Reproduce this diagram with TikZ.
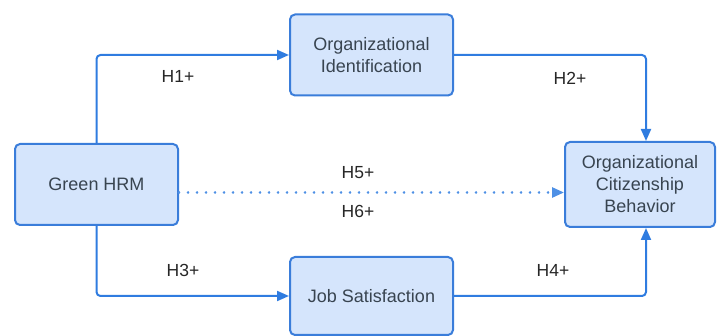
\documentclass[tikz,border=0pt]{standalone}
\usepackage{fontspec}
\setmainfont{Liberation Sans}
\usetikzlibrary{arrows.meta}
\definecolor{boxfill}{HTML}{D5E5FC}
\definecolor{boxline}{HTML}{3A7DDA}
\definecolor{linkblue}{HTML}{2F7CE0}
\definecolor{boxtext}{HTML}{384450}
\definecolor{labeltext}{HTML}{262626}
\begin{document}
\begin{tikzpicture}[x=1pt,y=-1pt,
  concept/.style={draw=boxline, fill=boxfill, line width=2pt, rounded corners=5pt,
    text=boxtext, align=center, inner sep=0pt,
    font=\fontsize{18}{22}\selectfont},
  link/.style={draw=linkblue, line width=2pt, rounded corners=4pt,
    -{Triangle[length=12pt,width=10pt]}},
  dotlink/.style={draw=linkblue!85, line width=2.6pt, line cap=round,
    dash pattern=on 0.1pt off 8.9pt, -{Triangle[length=12pt,width=10pt]}},
  hyp/.style={text=labeltext, font=\fontsize{17.5}{20}\selectfont, inner sep=0pt}]
  \useasboundingbox (0,0) rectangle (718,336);

  % constructs
  \node[concept, minimum width=163pt, minimum height=81pt] (ghrm) at (96.5,184.5) {Green HRM};
  \node[concept, minimum width=163pt, minimum height=81pt] (oid) at (371.5,55) {Organizational\\Identification};
  \node[concept, minimum width=150pt, minimum height=85pt] (ocb) at (640,184.5) {Organizational\\Citizenship\\Behavior};
  \node[concept, minimum width=163pt, minimum height=78pt] (js) at (371.5,296) {Job Satisfaction};

  % hypothesised paths
  \draw[link] (ghrm.north) |- (oid.west);
  \draw[link] (oid.east) -| ([xshift=6pt]ocb.north);
  \draw[link] (ghrm.south) |- (js.west);
  \draw[link] (js.east) -| ([xshift=6pt]ocb.south);
  \draw[dotlink] ([yshift=-8pt]ghrm.east) -- ([yshift=-8pt]ocb.west);

  % path labels
  \node[hyp] (h1) at (178,76) {H1+};
  \node[hyp] (h2) at (570,78) {H2+};
  \node[hyp] (h5) at (358,173) {H5+};
  \node[hyp] (h6) at (358,211) {H6+};
  \node[hyp] (h3) at (183,270) {H3+};
  \node[hyp] (h4) at (553,270) {H4+};
\end{tikzpicture}
\end{document}
